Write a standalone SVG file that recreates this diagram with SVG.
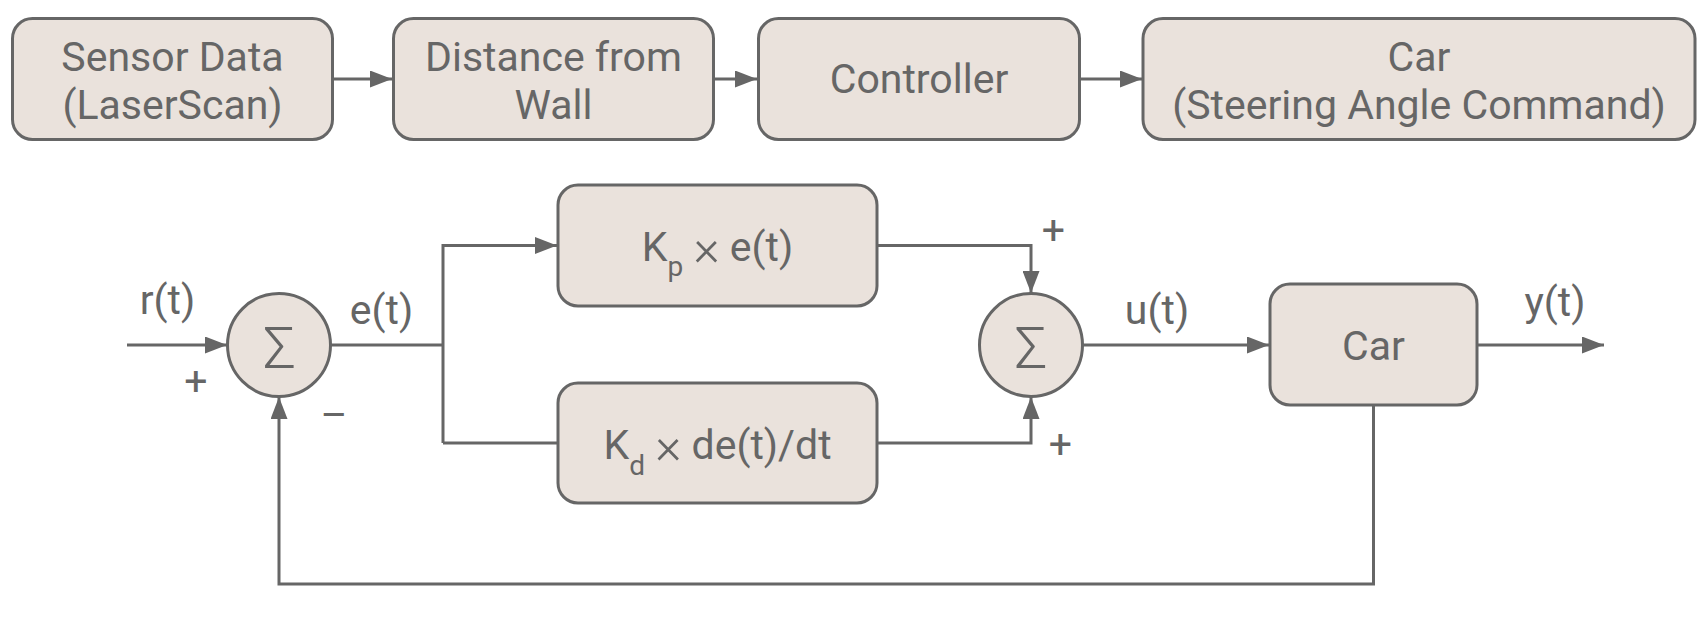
<svg xmlns="http://www.w3.org/2000/svg" width="1708" height="618" viewBox="0 0 1708 618">
<style>
.box{fill:#eae2dc;stroke:#666666;stroke-width:3}
.t{font-family:Roboto,"Liberation Sans",sans-serif;font-size:41px;fill:#666666;text-anchor:middle}
.sig{font-family:Roboto,"Liberation Sans",sans-serif;font-size:58px;font-weight:300;fill:#666666;text-anchor:middle}
.x{font-size:50px;font-weight:300}
.c{fill:none;stroke:#666666;stroke-width:3}
</style>
<defs>
<marker id="ah" markerUnits="userSpaceOnUse" markerWidth="22" markerHeight="17" refX="22" refY="8.5" orient="auto">
<path d="M0,0 L22,8.5 L0,17 z" fill="#666666"/>
</marker>
</defs>
<rect width="1708" height="618" fill="#ffffff"/>
<g id="connectors">
<path class="c" d="M333,79 H392" marker-end="url(#ah)"/>
<path class="c" d="M714,79 H757" marker-end="url(#ah)"/>
<path class="c" d="M1080,79 H1142" marker-end="url(#ah)"/>
<path class="c" d="M127,345 H227" marker-end="url(#ah)"/>
<path class="c" d="M330,345 H443"/>
<path class="c" d="M443,443 V245.5 H557" marker-end="url(#ah)"/>
<path class="c" d="M443,443 H558"/>
<path class="c" d="M877,245.5 H1031 V293" marker-end="url(#ah)"/>
<path class="c" d="M877,443 H1031 V397" marker-end="url(#ah)"/>
<path class="c" d="M1082.5,345 H1269" marker-end="url(#ah)"/>
<path class="c" d="M1477,345 H1604" marker-end="url(#ah)"/>
<path class="c" d="M1373.5,405 V584 H279 V397" marker-end="url(#ah)"/>
</g>
<g id="sensor">
<rect class="box" x="12.5" y="18.5" width="320" height="121" rx="20"/>
<text class="t" x="172.5" y="71">Sensor Data</text>
<text class="t" x="172.5" y="119">(LaserScan)</text>
</g>
<g id="distance">
<rect class="box" x="393.5" y="18.5" width="320" height="121" rx="20"/>
<text class="t" x="553.5" y="71">Distance from</text>
<text class="t" x="553.5" y="119">Wall</text>
</g>
<g id="controller">
<rect class="box" x="758.5" y="18.5" width="321" height="121" rx="20"/>
<text class="t" x="919" y="93">Controller</text>
</g>
<g id="car-top">
<rect class="box" x="1143" y="18.5" width="552" height="121" rx="20"/>
<text class="t" x="1419" y="71">Car</text>
<text class="t" x="1419" y="119">(Steering Angle Command)</text>
</g>
<g id="sum1">
<circle class="box" cx="279" cy="345" r="51.5"/>
<text class="sig" x="279.5" y="368">Σ</text>
</g>
<g id="kp">
<rect class="box" x="558" y="185" width="319" height="121" rx="20"/>
<text class="t" x="717.5" y="261">K<tspan font-size="28px" dy="15">p</tspan><tspan dy="-15"> </tspan><tspan class="x" dy="4">×</tspan><tspan dy="-4"> e(t)</tspan></text>
</g>
<g id="kd">
<rect class="box" x="558" y="383" width="319" height="120" rx="20"/>
<text class="t" x="717.5" y="459">K<tspan font-size="28px" dy="16">d</tspan><tspan dy="-16"> </tspan><tspan class="x" dy="4">×</tspan><tspan dy="-4"> de(t)/dt</tspan></text>
</g>
<g id="sum2">
<circle class="box" cx="1031" cy="345" r="51.5"/>
<text class="sig" x="1031" y="368">Σ</text>
</g>
<g id="car">
<rect class="box" x="1270" y="284" width="207" height="121" rx="20"/>
<text class="t" x="1373.5" y="360">Car</text>
</g>
<g id="labels">
<text class="t" x="167.5" y="314">r(t)</text>
<text class="t" x="381.5" y="324">e(t)</text>
<text class="t" x="1157" y="324">u(t)</text>
<text class="t" x="1555" y="316">y(t)</text>
<text class="t" x="196" y="395">+</text>
<text class="t" x="334" y="429">–</text>
<text class="t" x="1053.5" y="244">+</text>
<text class="t" x="1060.5" y="458">+</text>
</g>
</svg>
